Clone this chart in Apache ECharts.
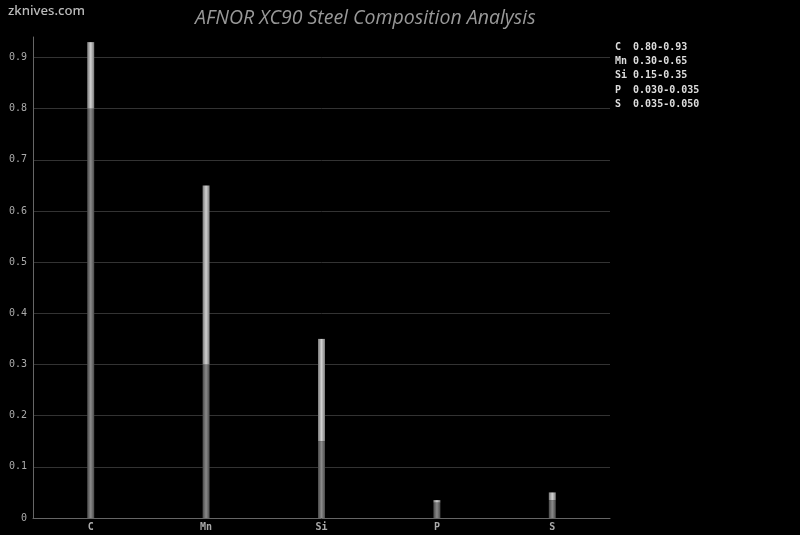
<!DOCTYPE html>
<html><head><meta charset="utf-8">
<script src="https://cdn.jsdelivr.net/npm/echarts@6/dist/echarts.min.js"></script>
<style>html,body{margin:0;padding:0;background:#000;}#c{width:800px;height:535px;}</style>
</head><body><div id="c"></div>
<script>
const categories = ['C', 'Mn', 'Si', 'P', 'S'];
const minValues = [0.80, 0.30, 0.15, 0.030, 0.035];
const maxValues = [0.93, 0.65, 0.35, 0.035, 0.050];
const minLabels = ['0.80', '0.30', '0.15', '0.030', '0.035'];
const maxLabels = ['0.93', '0.65', '0.35', '0.035', '0.050'];

const rangeValues = maxValues.map((v, i) => +(v - minValues[i]).toFixed(4));
const mono = 'DejaVu Sans Mono';

const chart = echarts.init(document.getElementById('c'));
const grad = (e, c) => new echarts.graphic.LinearGradient(0, 0, 1, 0, [
  {offset: 0, color: e}, {offset: 0.5, color: c}, {offset: 1, color: e}
]);

const legendLines = categories.map((c, i) => (c + '  ').slice(0, 2) + ' ' + minLabels[i] + '-' + maxLabels[i]);

chart.setOption({
  backgroundColor: '#000',
  animation: false,
  title: {
    text: 'AFNOR XC90 Steel Composition Analysis',
    left: 190, top: 3,
    textStyle: {color: '#999', fontStyle: 'italic', fontWeight: 'normal', fontFamily: 'Open Sans', fontSize: 19.5}
  },
  graphic: [
    {type: 'text', left: 8, top: 5, style: {text: 'zknives.com', fill: '#bbb', font: '500 13.2px "Noto Sans"'}},
    {type: 'text', left: 615, top: 40, style: {text: legendLines.join('\n'), fill: '#ddd', font: 'bold 10px "' + mono + '"', lineHeight: 14.3}}
  ],
  grid: {left: 33, right: 190, top: 37, bottom: 17},
  xAxis: {
    type: 'category', data: categories,
    axisLine: {lineStyle: {color: '#666'}},
    axisTick: {show: false},
    axisLabel: {color: '#aaa', fontFamily: mono, fontWeight: 'bold', fontSize: 10, margin: 4}
  },
  yAxis: {
    type: 'value', min: 0, max: 0.94, interval: 0.1,
    axisLine: {show: true, lineStyle: {color: '#666'}},
    axisTick: {show: false},
    axisLabel: {color: '#aaa', fontFamily: mono, fontSize: 10, margin: 6, showMaxLabel: false,
      formatter: v => (Math.round(v * 10) / 10).toString()},
    splitLine: {show: true, showMaxLine: false, showMinLine: false, lineStyle: {color: '#333'}}
  },
  series: [
    {type: 'bar', stack: 'a', data: minValues, barWidth: 7,
      itemStyle: {color: grad('#4a4a4a', '#8a8a8a')}},
    {type: 'bar', stack: 'a', data: rangeValues, barWidth: 7,
      itemStyle: {color: grad('#7a7a7a', '#d0d0d0')}}
  ]
});
</script></body></html>
